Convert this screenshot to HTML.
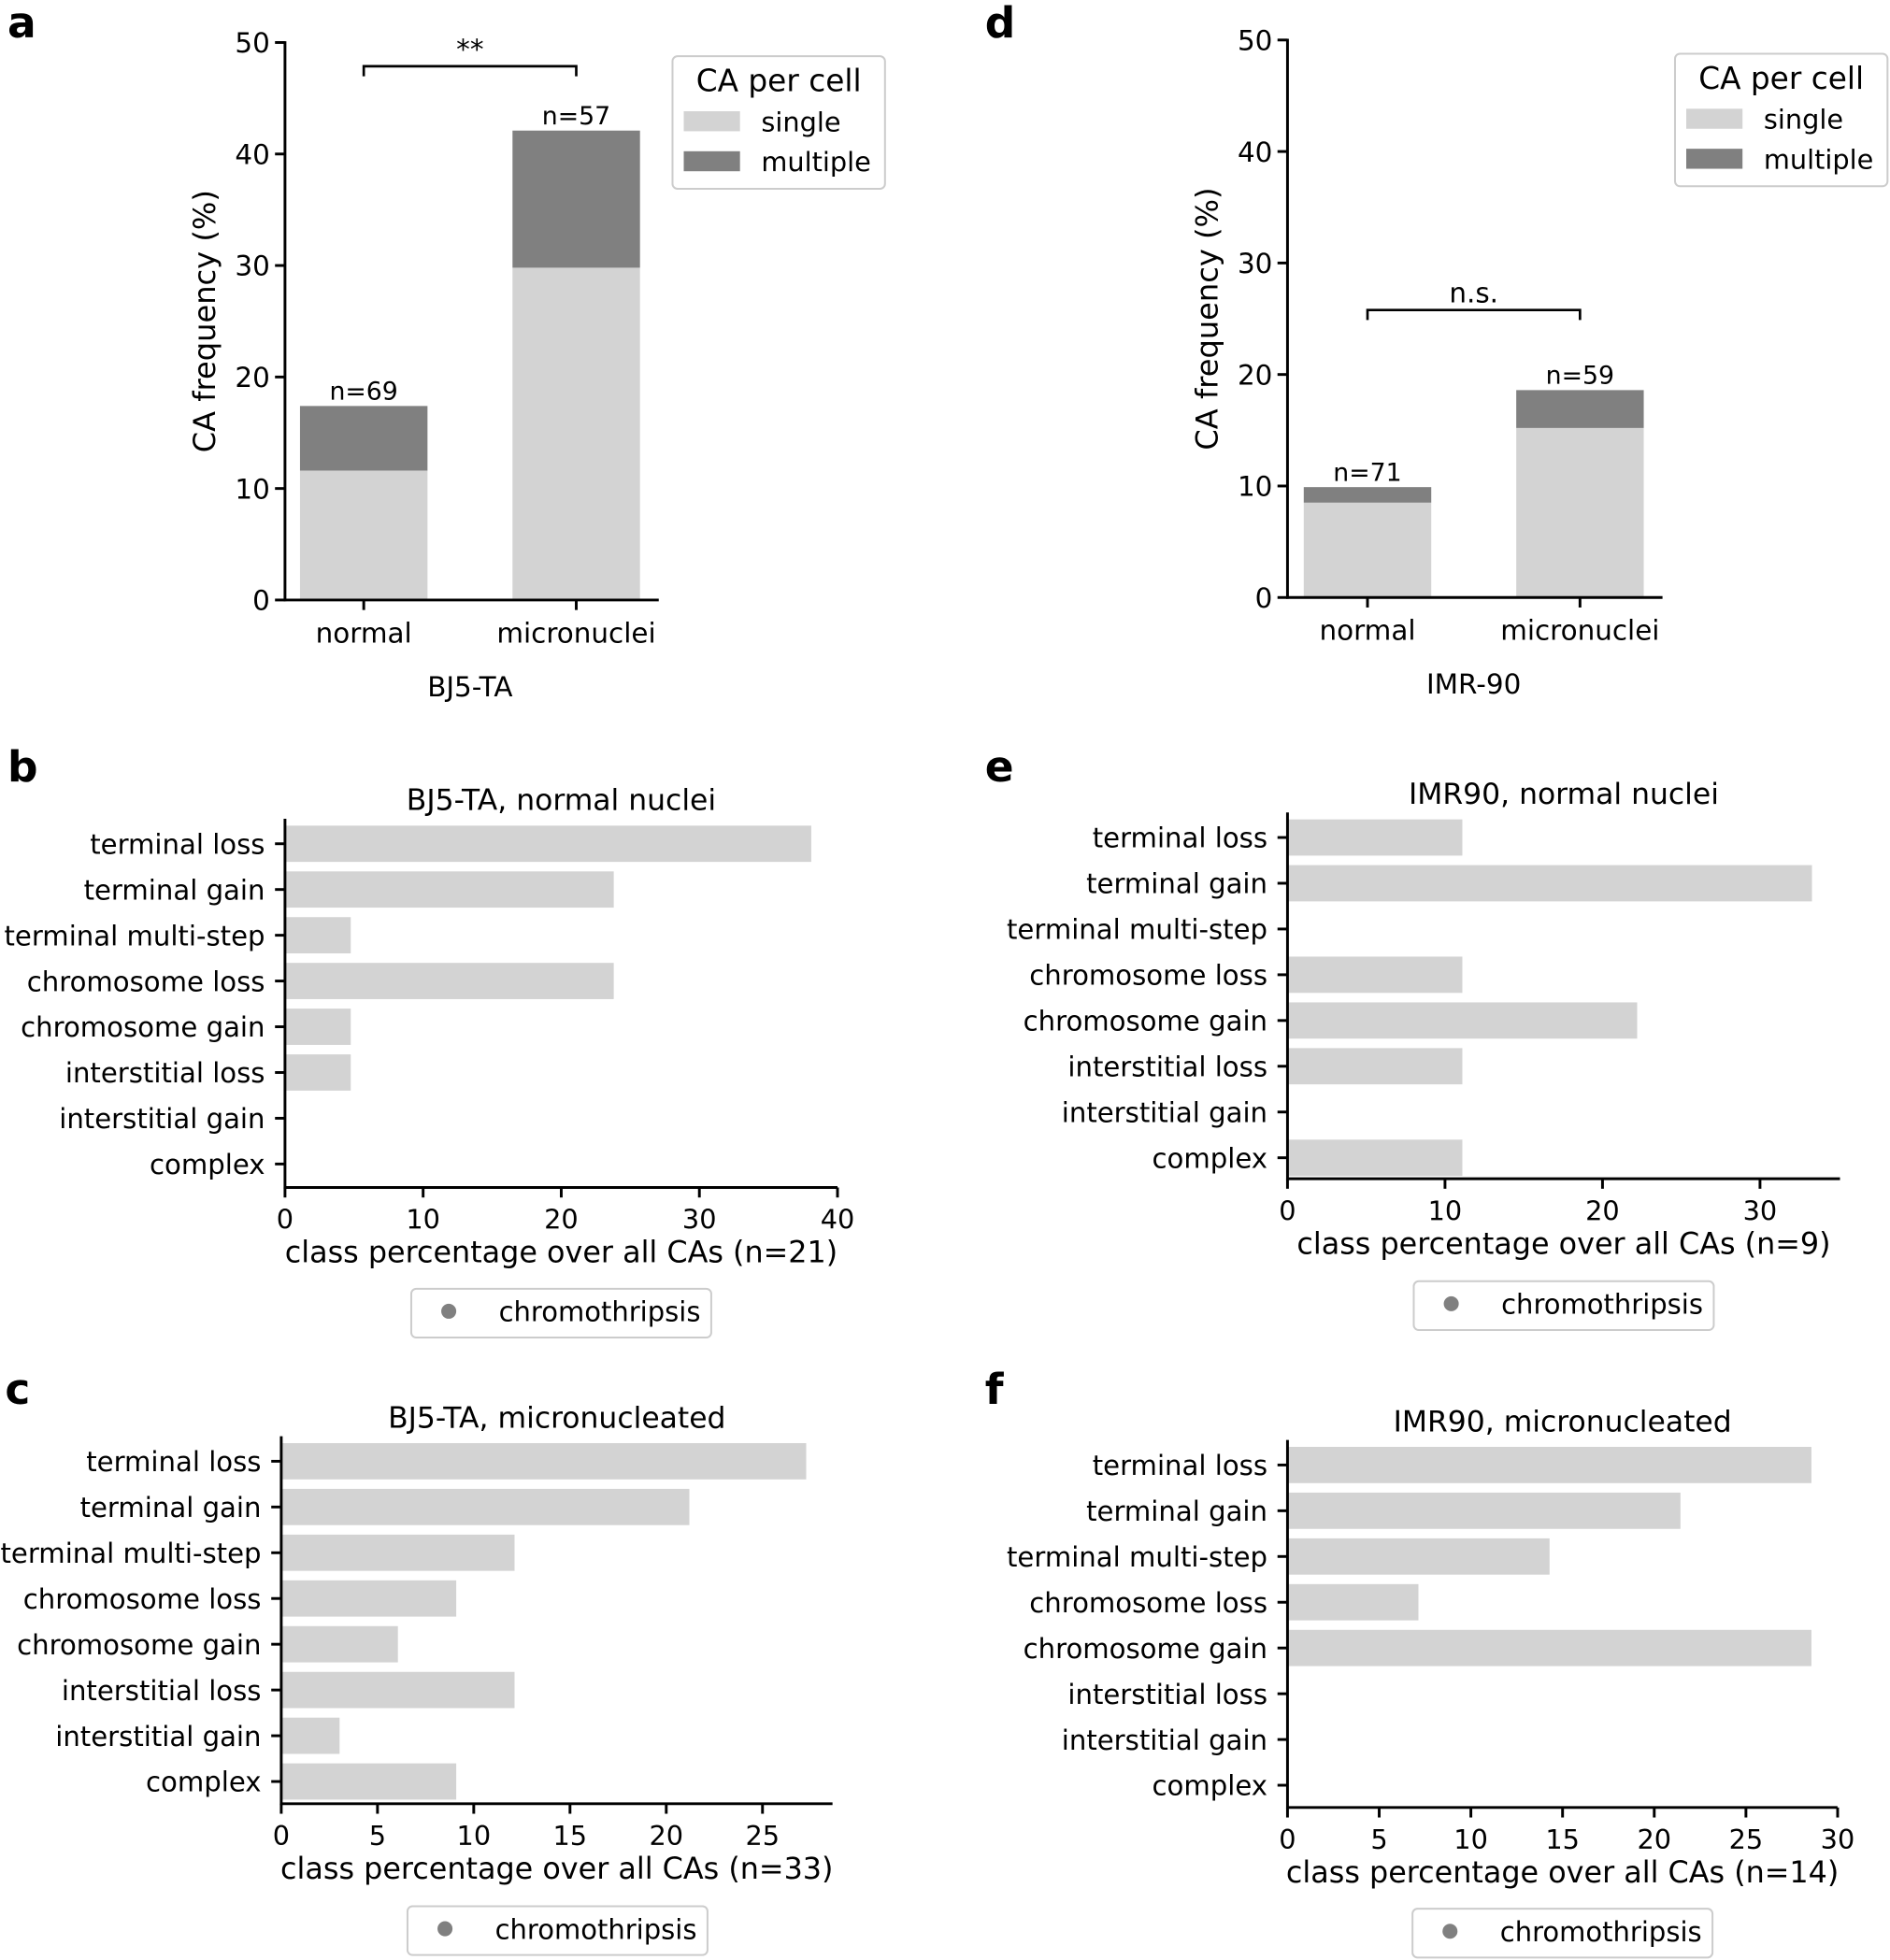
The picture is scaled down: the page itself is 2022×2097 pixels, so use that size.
<!DOCTYPE html>
<html><head><meta charset="utf-8"><style>html,body{margin:0;padding:0;background:#fff}svg{display:block}text{font-family:"DejaVu Sans","Liberation Sans",sans-serif;fill:#000}</style></head>
<body>
<svg id="s" width="2022" height="2097" viewBox="0 0 1512 1568" preserveAspectRatio="none" xmlns="http://www.w3.org/2000/svg"></svg>
<script>
var s=document.getElementById('s'),o='';
function L(x1,y1,x2,y2,w){o+='<line x1="'+x1+'" y1="'+y1+'" x2="'+x2+'" y2="'+y2+'" stroke="#000" stroke-width="'+(w||2.2)+'"/>';}
function R(x,y,w,h,c){o+='<rect x="'+x+'" y="'+y+'" width="'+w+'" height="'+h+'" fill="'+c+'"/>';}
function T(x,y,t,sz,a,b){o+='<text x="'+x+'" y="'+y+'" font-size="'+(sz||20)+'" text-anchor="'+(a||'middle')+'"'+(b?' font-weight="bold"':'')+'>'+t+'</text>';}
var LG='#d3d3d3',DG='#808080';
function barPanel(ax,ay0,ay50,xend,c1,c2,vals,ns,brY,brTxt,lx,ly,sub){
  var k=(ay0-ay50)/50;
  var cs=[c1,c2];
  for(var i=0;i<2;i++){var c=cs[i],v=vals[i];
    R(c-51,ay0-v[1]*k,102,(v[1]-v[0])*k,DG);R(c-51,ay0-v[0]*k,102,v[0]*k,LG);
    T(c,ay0-v[1]*k-5,ns[i],20);
    L(c,ay0,c,ay0+8);}
  L(ax,ay50-1,ax,ay0+1);L(ax-1,ay0,xend,ay0);
  for(var t=0;t<=50;t+=10){var y=ay0-t*k;L(ax-8,y,ax,y);T(ax-12,y+8,t,22,'end');}
  T(c1,ay0+34,'normal',22);T(c2,ay0+34,'micronuclei',22);
  T((c1+c2)/2,ay0+77,sub,22);
  o+='<path d="M'+c1+' '+(brY+8)+'V'+brY+'H'+c2+'V'+(brY+8)+'" fill="none" stroke="#000" stroke-width="2"/>';
  T((c1+c2)/2,brY-6,brTxt,22);
  o+='<text transform="translate('+(ax-56)+','+((ay0+ay50)/2)+') rotate(-90)" font-size="24" text-anchor="middle">CA frequency (%)</text>';
  o+='<rect x="'+lx+'" y="'+ly+'" width="170" height="106" rx="4" fill="#fff" stroke="#ccc" stroke-width="1.5"/>';
  T(lx+85,ly+28,'CA per cell',24.5);
  R(lx+9,ly+44,45,16,LG);T(lx+71,ly+60,'single',21.5,'start');
  R(lx+9,ly+76,45,16,DG);T(lx+71,ly+92,'multiple',21.5,'start');
}
barPanel(228,480,34,527,291,461,[[11.6,17.4],[29.8,42.1]],['n=69','n=57'],53,'**',538,45,'BJ5-TA');
barPanel(1030,478,32,1330,1094,1264,[[8.5,9.9],[15.2,18.6]],['n=71','n=59'],248,'n.s.',1340,43,'IMR-90');
var cats=['terminal loss','terminal gain','terminal multi-step','chromosome loss','chromosome gain','interstitial loss','interstitial gain','complex'];
function hPanel(ax,y0,axY,k,tmax,tstep,xend,vals,title,titleY,xl,legX,legY){
  for(var i=0;i<8;i++){var y=y0+i*36.6;
    if(vals[i]>0)R(ax,y-14.5,vals[i]*k,29,LG);
    L(ax-8,y,ax,y);T(ax-16,y+8,cats[i],21.8,'end');}
  L(ax,y0-20,ax,axY+1);L(ax-1,axY,xend,axY);
  for(var t=0;t<=tmax;t+=tstep){var x=ax+t*k;L(x,axY,x,axY+8);T(x,axY+33,t,21.5);}
  var mid=(ax+xend)/2;
  T(mid,titleY,title,23.5);T(mid,axY+60,xl,23.8);
  o+='<rect x="'+legX+'" y="'+legY+'" width="240" height="39" rx="4" fill="#fff" stroke="#ccc" stroke-width="1.5"/>';
  o+='<circle cx="'+(legX+30)+'" cy="'+(legY+18)+'" r="6" fill="'+DG+'"/>';
  T(legX+70,legY+26,'chromothripsis',21.7,'start');
}
hPanel(228,675,950,11.05,40,10,670,[38.1,23.8,4.76,23.8,4.76,4.76,0,0],'BJ5-TA, normal nuclei',648,'class percentage over all CAs (n=21)',329,1031);
hPanel(225,1169,1443,15.4,25,5,666,[27.27,21.2,12.12,9.09,6.06,12.12,3.03,9.09],'BJ5-TA, micronucleated',1142,'class percentage over all CAs (n=33)',326,1525);
hPanel(1030,670,943,12.6,30,10,1472,[11.1,33.3,0,11.1,22.2,11.1,0,11.1],'IMR90, normal nuclei',643,'class percentage over all CAs (n=9)',1131,1025);
hPanel(1030,1172,1446,14.67,30,5,1470,[28.57,21.43,14.29,7.14,28.57,0,0,0],'IMR90, micronucleated',1145,'class percentage over all CAs (n=14)',1130,1527);
var P=[['a',6,30],['b',6,625],['c',4,1123],['d',788,30],['e',788,625],['f',788,1123]];
P.forEach(function(p){T(p[1],p[2],p[0],34,'start',1);});
s.innerHTML=o;
</script>
</body></html>
